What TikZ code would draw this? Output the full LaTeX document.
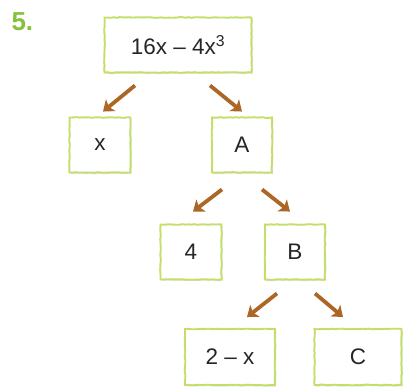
\documentclass[tikz,border=0pt]{standalone}
\usepackage{fontspec}
\setmainfont{Liberation Sans}
\usetikzlibrary{arrows.meta,shadows,decorations.pathmorphing}
\definecolor{boxgreen}{RGB}{195,222,105}
\definecolor{arrbrown}{RGB}{172,102,38}
\definecolor{numgreen}{RGB}{135,192,60}
\tikzset{
  tbox/.style={draw=boxgreen, line width=1.9pt, fill=white, minimum height=55pt,
    font=\fontsize{22.5}{26}\selectfont, text=black!85, inner sep=0pt,
    drop shadow={opacity=0.18, shadow xshift=1.2pt, shadow yshift=-1.5pt},
    decorate, decoration={random steps, segment length=3pt, amplitude=0.35pt}},
  arr/.style={draw=arrbrown, line width=3.8pt, -{Stealth[length=10pt,width=15pt,inset=2.5pt]}},
}
\begin{document}
\begin{tikzpicture}[x=1pt,y=-1pt]
\useasboundingbox (0,0) rectangle (407,390);
\node[font=\fontsize{26}{28}\selectfont\bfseries, text=numgreen, anchor=west] (num) at (8,22) {5.};
\node[tbox, minimum width=147pt] (top) at (178,45) {16x – 4x\textsuperscript{3}};
\node[tbox, minimum width=61pt] (x) at (100,145) {x};
\node[tbox, minimum width=60pt] (A) at (242,145) {A};
\node[tbox, minimum width=61pt] (four) at (191,252) {4};
\node[tbox, minimum width=60pt] (B) at (295,252) {B};
\node[tbox, minimum width=90pt, minimum height=56pt] (tx) at (230,357) {2 – x};
\node[tbox, minimum width=87pt, minimum height=56pt] (C) at (358,357) {C};
\draw[arr] ([shift={(-43,12)}]top.south) -- ([shift={(3,-5)}]x.north);
\draw[arr] ([shift={(32,12)}]top.south) -- ([shift={(0,-5)}]A.north);
\draw[arr] ([shift={(-20,16)}]A.south) -- ([shift={(2,-12)}]four.north);
\draw[arr] ([shift={(20,16)}]A.south) -- ([shift={(-5,-12)}]B.north);
\draw[arr] ([shift={(-18,13)}]B.south) -- ([shift={(17,-11)}]tx.north);
\draw[arr] ([shift={(20,13)}]B.south) -- ([shift={(-15,-11)}]C.north);
\end{tikzpicture}
\end{document}
